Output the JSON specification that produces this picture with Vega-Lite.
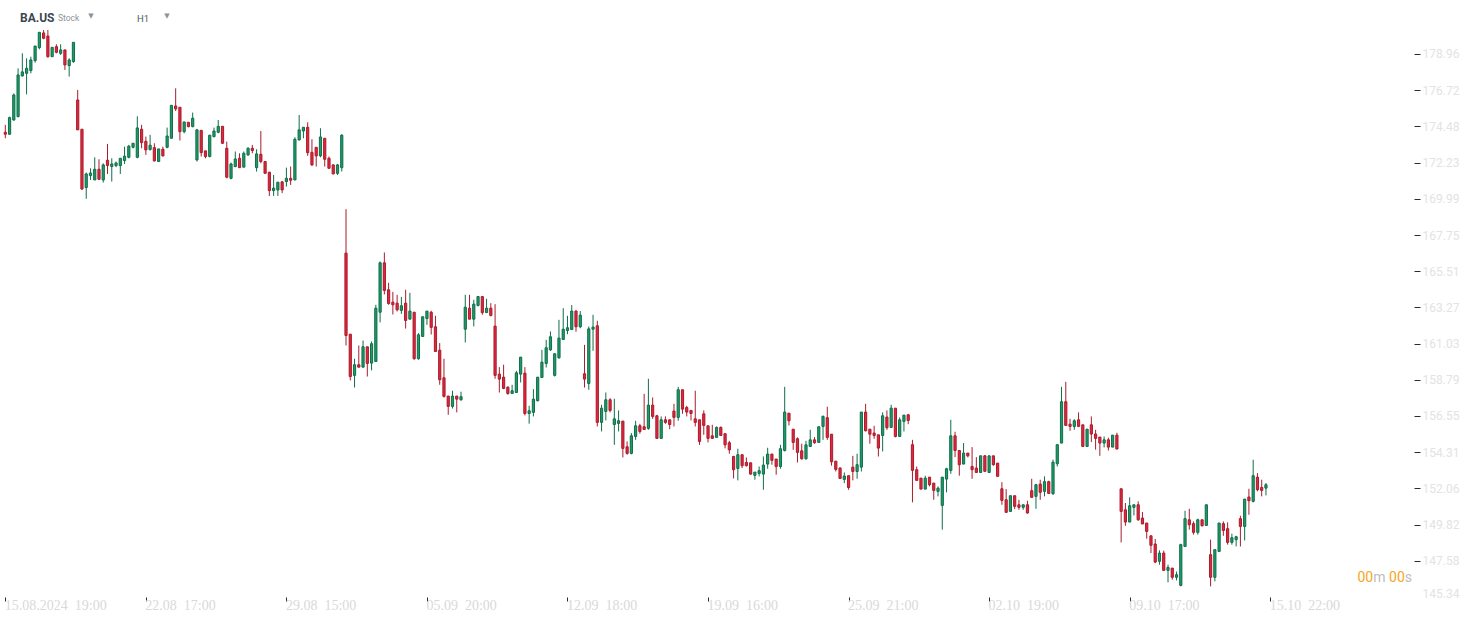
{
"$schema": "https://vega.github.io/schema/vega-lite/v6.json",
"width": 1414,
"height": 597,
"autosize": {"type": "none"},
"padding": {"left": 0, "top": 0, "right": 68, "bottom": 26},
"background": "#ffffff",
"config": {"view": {"stroke": null}, "font": "Roboto", "scale": {"continuousPadding": 0}, "axis": {"labelOverlap": false, "labelBound": false}},
"title": {"text": "BA.US", "anchor": "start", "frame": "group", "offset": 0, "dx": 20, "dy": 34, "baseline": "alphabetic", "fontSize": 12, "fontWeight": "bold", "color": "#3b4653", "font": "Roboto"},
"data": {"values": [
{"i":1,"open":174.11,"high":174.57,"low":173.74,"close":173.99},
{"i":2,"open":173.99,"high":175.08,"low":173.95,"close":175.02},
{"i":3,"open":174.87,"high":176.52,"low":174.83,"close":176.42},
{"i":4,"open":175.08,"high":178.07,"low":175.04,"close":177.66},
{"i":5,"open":177.60,"high":179.00,"low":177.56,"close":177.85},
{"i":6,"open":177.76,"high":178.69,"low":176.46,"close":178.07},
{"i":7,"open":177.93,"high":178.79,"low":177.76,"close":178.59},
{"i":8,"open":178.55,"high":179.45,"low":178.42,"close":179.45},
{"i":9,"open":179.35,"high":180.30,"low":179.25,"close":180.30},
{"i":10,"open":180.26,"high":180.44,"low":179.87,"close":179.93},
{"i":11,"open":180.07,"high":180.44,"low":178.73,"close":178.79},
{"i":12,"open":178.79,"high":179.37,"low":178.79,"close":179.37},
{"i":13,"open":179.41,"high":179.56,"low":179.00,"close":179.06},
{"i":14,"open":179.00,"high":179.56,"low":178.90,"close":179.21},
{"i":15,"open":179.21,"high":179.21,"low":177.97,"close":178.28},
{"i":16,"open":178.24,"high":178.69,"low":177.56,"close":178.59},
{"i":17,"open":178.48,"high":179.68,"low":178.42,"close":179.68},
{"i":18,"open":176.11,"high":176.73,"low":174.26,"close":174.26},
{"i":19,"open":174.30,"high":174.30,"low":170.54,"close":170.60},
{"i":20,"open":170.69,"high":171.62,"low":169.99,"close":171.53},
{"i":21,"open":171.43,"high":171.88,"low":171.16,"close":171.59},
{"i":22,"open":171.16,"high":172.56,"low":171.16,"close":171.82},
{"i":23,"open":171.82,"high":172.44,"low":171.16,"close":171.20},
{"i":24,"open":171.16,"high":172.19,"low":171.00,"close":172.09},
{"i":25,"open":172.38,"high":173.39,"low":171.53,"close":172.05},
{"i":26,"open":171.99,"high":172.50,"low":171.06,"close":172.15},
{"i":27,"open":172.05,"high":172.30,"low":171.95,"close":172.21},
{"i":28,"open":172.05,"high":172.50,"low":171.53,"close":172.50},
{"i":29,"open":172.36,"high":173.22,"low":172.15,"close":172.63},
{"i":30,"open":172.56,"high":173.33,"low":172.50,"close":173.25},
{"i":31,"open":173.18,"high":173.43,"low":173.12,"close":173.43},
{"i":32,"open":172.56,"high":175.10,"low":172.50,"close":174.38},
{"i":33,"open":174.30,"high":174.57,"low":173.12,"close":173.47},
{"i":34,"open":173.55,"high":173.84,"low":172.71,"close":173.02},
{"i":35,"open":173.04,"high":173.95,"low":172.98,"close":173.31},
{"i":36,"open":173.16,"high":173.43,"low":172.30,"close":172.34},
{"i":37,"open":172.30,"high":173.08,"low":172.30,"close":173.08},
{"i":38,"open":173.06,"high":173.22,"low":172.61,"close":172.65},
{"i":39,"open":173.18,"high":174.40,"low":173.12,"close":173.88},
{"i":40,"open":173.74,"high":175.78,"low":173.74,"close":175.78},
{"i":41,"open":175.74,"high":176.83,"low":175.43,"close":175.56},
{"i":42,"open":175.66,"high":175.66,"low":173.60,"close":174.15},
{"i":43,"open":174.15,"high":174.75,"low":174.05,"close":174.75},
{"i":44,"open":174.73,"high":174.73,"low":174.42,"close":174.46},
{"i":45,"open":174.46,"high":175.33,"low":174.42,"close":174.98},
{"i":46,"open":172.40,"high":174.32,"low":172.30,"close":174.26},
{"i":47,"open":174.23,"high":174.23,"low":172.61,"close":172.85},
{"i":48,"open":172.96,"high":172.96,"low":172.50,"close":172.61},
{"i":49,"open":172.61,"high":173.93,"low":172.56,"close":173.93},
{"i":50,"open":173.84,"high":174.40,"low":173.80,"close":174.19},
{"i":51,"open":174.11,"high":174.87,"low":174.05,"close":174.48},
{"i":52,"open":174.48,"high":174.48,"low":173.39,"close":173.43},
{"i":53,"open":173.12,"high":173.53,"low":171.26,"close":171.33},
{"i":54,"open":171.26,"high":172.23,"low":171.20,"close":172.15},
{"i":55,"open":171.99,"high":172.92,"low":171.95,"close":172.46},
{"i":56,"open":172.50,"high":172.81,"low":171.92,"close":171.92},
{"i":57,"open":171.95,"high":172.92,"low":171.95,"close":172.81},
{"i":58,"open":172.71,"high":173.18,"low":172.65,"close":173.12},
{"i":59,"open":173.12,"high":173.33,"low":172.81,"close":172.98},
{"i":60,"open":171.92,"high":173.06,"low":171.68,"close":172.77},
{"i":61,"open":172.75,"high":174.19,"low":172.19,"close":172.30},
{"i":62,"open":172.30,"high":172.30,"low":171.57,"close":171.57},
{"i":63,"open":171.64,"high":171.64,"low":170.17,"close":170.50},
{"i":64,"open":170.50,"high":171.47,"low":170.17,"close":170.65},
{"i":65,"open":170.54,"high":171.02,"low":170.17,"close":171.02},
{"i":66,"open":171.04,"high":171.10,"low":170.34,"close":170.54},
{"i":67,"open":171.06,"high":171.92,"low":170.75,"close":171.26},
{"i":68,"open":171.26,"high":171.99,"low":170.85,"close":171.14},
{"i":69,"open":171.16,"high":173.80,"low":171.16,"close":173.68},
{"i":70,"open":173.64,"high":175.18,"low":173.60,"close":174.26},
{"i":71,"open":174.19,"high":174.42,"low":173.74,"close":174.42},
{"i":72,"open":174.42,"high":174.73,"low":172.65,"close":172.85},
{"i":73,"open":172.87,"high":173.68,"low":172.03,"close":172.09},
{"i":74,"open":173.18,"high":173.18,"low":171.99,"close":172.65},
{"i":75,"open":172.65,"high":174.36,"low":172.56,"close":173.82},
{"i":76,"open":173.74,"high":173.74,"low":171.99,"close":172.44},
{"i":77,"open":172.50,"high":172.61,"low":171.88,"close":171.88},
{"i":78,"open":172.09,"high":172.13,"low":171.53,"close":171.53},
{"i":79,"open":171.57,"high":172.15,"low":171.47,"close":172.09},
{"i":80,"open":171.92,"high":173.99,"low":171.68,"close":173.93},
{"i":81,"open":166.63,"high":169.35,"low":160.91,"close":161.53},
{"i":82,"open":161.61,"high":161.61,"low":158.75,"close":158.99},
{"i":83,"open":159.06,"high":160.09,"low":158.31,"close":159.72},
{"i":84,"open":159.72,"high":160.91,"low":159.55,"close":159.57},
{"i":85,"open":159.57,"high":161.22,"low":159.55,"close":160.83},
{"i":86,"open":160.83,"high":160.83,"low":158.99,"close":159.80},
{"i":87,"open":159.82,"high":161.16,"low":159.37,"close":161.02},
{"i":88,"open":159.92,"high":163.43,"low":159.92,"close":163.22},
{"i":89,"open":162.97,"high":166.11,"low":162.34,"close":166.03},
{"i":90,"open":166.03,"high":166.67,"low":164.07,"close":164.32},
{"i":91,"open":164.36,"high":164.79,"low":163.43,"close":163.51},
{"i":92,"open":163.59,"high":164.23,"low":162.83,"close":163.43},
{"i":93,"open":163.53,"high":164.05,"low":163.02,"close":163.12},
{"i":94,"open":163.08,"high":163.92,"low":162.87,"close":163.37},
{"i":95,"open":163.53,"high":164.36,"low":161.96,"close":162.46},
{"i":96,"open":162.54,"high":164.17,"low":162.54,"close":163.04},
{"i":97,"open":162.97,"high":162.97,"low":160.03,"close":160.09},
{"i":98,"open":160.09,"high":161.68,"low":160.03,"close":161.57},
{"i":99,"open":161.47,"high":162.69,"low":161.47,"close":162.69},
{"i":100,"open":162.58,"high":163.04,"low":162.19,"close":163.04},
{"i":101,"open":162.97,"high":163.06,"low":161.59,"close":162.03},
{"i":102,"open":162.07,"high":162.75,"low":160.54,"close":160.54},
{"i":103,"open":160.62,"high":161.06,"low":158.48,"close":158.79},
{"i":104,"open":158.91,"high":160.09,"low":157.69,"close":157.76},
{"i":105,"open":157.78,"high":157.78,"low":156.62,"close":157.14},
{"i":106,"open":157.14,"high":158.11,"low":157.01,"close":157.78},
{"i":107,"open":157.78,"high":157.78,"low":156.77,"close":157.59},
{"i":108,"open":157.55,"high":158.05,"low":157.49,"close":157.74},
{"i":109,"open":161.92,"high":164.05,"low":161.10,"close":163.28},
{"i":110,"open":163.22,"high":164.05,"low":162.54,"close":162.54},
{"i":111,"open":162.54,"high":163.74,"low":162.09,"close":163.47},
{"i":112,"open":163.39,"high":163.94,"low":163.33,"close":163.94},
{"i":113,"open":163.94,"high":163.94,"low":162.81,"close":162.95},
{"i":114,"open":162.95,"high":163.80,"low":162.95,"close":163.22},
{"i":115,"open":163.22,"high":163.53,"low":162.71,"close":162.77},
{"i":116,"open":162.11,"high":163.47,"low":158.85,"close":159.06},
{"i":117,"open":159.14,"high":159.57,"low":158.00,"close":158.83},
{"i":118,"open":158.95,"high":159.72,"low":158.21,"close":158.25},
{"i":119,"open":158.33,"high":158.38,"low":157.86,"close":157.94},
{"i":120,"open":157.94,"high":158.48,"low":157.94,"close":158.11},
{"i":121,"open":158.00,"high":159.34,"low":158.00,"close":159.22},
{"i":122,"open":159.14,"high":160.19,"low":158.62,"close":160.19},
{"i":123,"open":159.20,"high":159.57,"low":156.58,"close":156.70},
{"i":124,"open":156.70,"high":157.18,"low":156.07,"close":156.87},
{"i":125,"open":156.77,"high":158.21,"low":156.52,"close":157.59},
{"i":126,"open":157.49,"high":158.95,"low":157.45,"close":158.95},
{"i":127,"open":158.93,"high":160.64,"low":158.93,"close":159.88},
{"i":128,"open":159.80,"high":161.26,"low":159.55,"close":160.77},
{"i":129,"open":160.64,"high":161.78,"low":160.58,"close":161.45},
{"i":130,"open":159.06,"high":160.40,"low":158.99,"close":160.40},
{"i":131,"open":160.15,"high":162.50,"low":160.09,"close":161.37},
{"i":132,"open":161.28,"high":163.22,"low":161.28,"close":161.92},
{"i":133,"open":161.84,"high":162.75,"low":161.61,"close":162.01},
{"i":134,"open":161.90,"high":163.41,"low":161.90,"close":163.04},
{"i":135,"open":163.04,"high":163.10,"low":161.76,"close":162.07},
{"i":136,"open":162.07,"high":163.04,"low":161.98,"close":162.79},
{"i":137,"open":159.16,"high":160.95,"low":158.31,"close":158.83},
{"i":138,"open":158.56,"high":162.09,"low":158.17,"close":161.94},
{"i":139,"open":161.92,"high":162.81,"low":160.58,"close":162.05},
{"i":140,"open":162.13,"high":162.44,"low":155.90,"close":156.15},
{"i":141,"open":156.15,"high":157.24,"low":155.59,"close":157.03},
{"i":142,"open":156.83,"high":158.00,"low":156.27,"close":157.55},
{"i":143,"open":157.55,"high":157.65,"low":156.77,"close":156.89},
{"i":144,"open":156.02,"high":157.61,"low":154.76,"close":156.37},
{"i":145,"open":156.09,"high":156.89,"low":155.59,"close":156.25},
{"i":146,"open":156.23,"high":156.23,"low":153.98,"close":154.54},
{"i":147,"open":154.64,"high":154.97,"low":154.15,"close":154.23},
{"i":148,"open":154.23,"high":155.49,"low":154.17,"close":155.32},
{"i":149,"open":155.28,"high":156.25,"low":155.07,"close":155.94},
{"i":150,"open":155.94,"high":156.06,"low":155.45,"close":155.59},
{"i":151,"open":155.88,"high":157.92,"low":155.71,"close":155.71},
{"i":152,"open":155.78,"high":158.85,"low":155.69,"close":157.22},
{"i":153,"open":157.22,"high":157.69,"low":156.37,"close":156.52},
{"i":154,"open":156.56,"high":156.62,"low":155.16,"close":155.16},
{"i":155,"open":155.16,"high":156.52,"low":155.16,"close":156.31},
{"i":156,"open":156.31,"high":156.52,"low":156.06,"close":156.15},
{"i":157,"open":156.31,"high":156.31,"low":155.73,"close":156.02},
{"i":158,"open":156.85,"high":157.30,"low":155.90,"close":156.46},
{"i":159,"open":156.46,"high":158.35,"low":156.25,"close":158.17},
{"i":160,"open":158.17,"high":158.17,"low":156.68,"close":156.97},
{"i":161,"open":157.07,"high":157.18,"low":156.52,"close":156.79},
{"i":162,"open":156.89,"high":156.89,"low":156.27,"close":156.70},
{"i":163,"open":156.37,"high":158.11,"low":155.90,"close":156.15},
{"i":164,"open":156.31,"high":156.31,"low":154.76,"close":154.97},
{"i":165,"open":156.68,"high":156.89,"low":155.38,"close":155.96},
{"i":166,"open":155.94,"high":155.94,"low":154.91,"close":155.16},
{"i":167,"open":155.32,"high":156.00,"low":155.16,"close":155.16},
{"i":168,"open":155.22,"high":155.90,"low":155.22,"close":155.84},
{"i":169,"open":155.84,"high":155.90,"low":155.34,"close":155.34},
{"i":170,"open":155.45,"high":155.45,"low":154.54,"close":154.76},
{"i":171,"open":154.89,"high":155.01,"low":154.21,"close":154.45},
{"i":172,"open":154.04,"high":154.08,"low":152.68,"close":153.22},
{"i":173,"open":153.30,"high":154.52,"low":152.56,"close":154.15},
{"i":174,"open":154.15,"high":154.15,"low":153.32,"close":153.47},
{"i":175,"open":153.67,"high":153.98,"low":153.42,"close":153.47},
{"i":176,"open":153.65,"high":153.65,"low":152.91,"close":152.95},
{"i":177,"open":152.87,"high":153.07,"low":152.60,"close":153.07},
{"i":178,"open":152.99,"high":153.42,"low":152.81,"close":153.16},
{"i":179,"open":152.95,"high":154.04,"low":151.98,"close":153.51},
{"i":180,"open":153.57,"high":154.58,"low":153.28,"close":154.19},
{"i":181,"open":154.19,"high":154.19,"low":153.53,"close":153.80},
{"i":182,"open":153.88,"high":153.88,"low":152.91,"close":153.42},
{"i":183,"open":153.42,"high":154.76,"low":153.28,"close":154.52},
{"i":184,"open":154.41,"high":158.35,"low":154.35,"close":156.79},
{"i":185,"open":156.72,"high":156.72,"low":155.96,"close":156.25},
{"i":186,"open":155.73,"high":155.73,"low":154.45,"close":154.91},
{"i":187,"open":155.14,"high":155.22,"low":153.67,"close":154.29},
{"i":188,"open":154.39,"high":154.83,"low":153.84,"close":153.90},
{"i":189,"open":153.90,"high":155.01,"low":153.84,"close":154.76},
{"i":190,"open":154.66,"high":155.69,"low":154.66,"close":155.07},
{"i":191,"open":155.07,"high":155.24,"low":154.83,"close":154.89},
{"i":192,"open":154.91,"high":155.88,"low":154.91,"close":155.88},
{"i":193,"open":155.90,"high":156.58,"low":155.07,"close":156.52},
{"i":194,"open":156.44,"high":157.12,"low":155.07,"close":155.22},
{"i":195,"open":155.42,"high":155.42,"low":153.47,"close":153.71},
{"i":196,"open":153.75,"high":153.75,"low":153.11,"close":153.24},
{"i":197,"open":153.32,"high":153.38,"low":152.68,"close":152.68},
{"i":198,"open":152.62,"high":153.05,"low":152.39,"close":152.83},
{"i":199,"open":152.85,"high":152.85,"low":151.98,"close":152.12},
{"i":200,"open":153.38,"high":154.08,"low":152.56,"close":153.11},
{"i":201,"open":153.11,"high":154.21,"low":152.66,"close":153.53},
{"i":202,"open":153.38,"high":156.79,"low":153.11,"close":156.79},
{"i":203,"open":156.79,"high":157.30,"low":155.59,"close":155.63},
{"i":204,"open":155.73,"high":155.73,"low":154.83,"close":155.42},
{"i":205,"open":155.49,"high":155.94,"low":155.14,"close":155.34},
{"i":206,"open":155.38,"high":155.38,"low":154.04,"close":154.56},
{"i":207,"open":155.34,"high":156.77,"low":154.35,"close":156.56},
{"i":208,"open":156.48,"high":156.89,"low":155.69,"close":155.82},
{"i":209,"open":155.84,"high":157.24,"low":155.84,"close":157.03},
{"i":210,"open":157.03,"high":157.03,"low":155.22,"close":155.28},
{"i":211,"open":155.28,"high":156.46,"low":155.28,"close":156.31},
{"i":212,"open":156.21,"high":156.60,"low":155.59,"close":156.60},
{"i":213,"open":156.62,"high":156.68,"low":156.04,"close":156.27},
{"i":214,"open":154.77,"high":155.07,"low":151.20,"close":153.18},
{"i":215,"open":153.22,"high":153.42,"low":152.56,"close":152.56},
{"i":216,"open":152.70,"high":152.70,"low":152.02,"close":152.02},
{"i":217,"open":152.02,"high":152.85,"low":152.02,"close":152.70},
{"i":218,"open":152.76,"high":152.76,"low":152.19,"close":152.29},
{"i":219,"open":152.39,"high":152.39,"low":151.36,"close":151.94},
{"i":220,"open":151.88,"high":152.19,"low":151.57,"close":152.08},
{"i":221,"open":151.01,"high":152.76,"low":149.51,"close":152.76},
{"i":222,"open":152.64,"high":153.34,"low":151.82,"close":153.28},
{"i":223,"open":153.18,"high":156.31,"low":152.97,"close":155.32},
{"i":224,"open":155.32,"high":155.57,"low":154.00,"close":154.41},
{"i":225,"open":154.41,"high":154.41,"low":152.85,"close":153.53},
{"i":226,"open":153.57,"high":154.87,"low":153.57,"close":154.25},
{"i":227,"open":154.25,"high":154.25,"low":153.98,"close":154.08},
{"i":228,"open":153.42,"high":154.62,"low":152.66,"close":153.22},
{"i":229,"open":153.32,"high":154.00,"low":153.05,"close":153.05},
{"i":230,"open":153.05,"high":154.08,"low":153.05,"close":154.08},
{"i":231,"open":154.08,"high":154.13,"low":153.12,"close":153.12},
{"i":232,"open":153.05,"high":154.08,"low":153.05,"close":154.08},
{"i":233,"open":154.08,"high":154.08,"low":153.47,"close":153.53},
{"i":234,"open":153.63,"high":153.63,"low":152.81,"close":152.81},
{"i":235,"open":152.04,"high":152.45,"low":151.05,"close":151.32},
{"i":236,"open":151.36,"high":152.02,"low":150.58,"close":150.58},
{"i":237,"open":150.64,"high":151.61,"low":150.64,"close":151.61},
{"i":238,"open":151.61,"high":151.61,"low":150.78,"close":150.95},
{"i":239,"open":151.05,"high":151.36,"low":150.74,"close":150.89},
{"i":240,"open":150.89,"high":151.05,"low":150.74,"close":151.05},
{"i":241,"open":151.05,"high":151.30,"low":150.50,"close":150.54},
{"i":242,"open":151.92,"high":152.66,"low":151.51,"close":151.51},
{"i":243,"open":151.57,"high":152.35,"low":150.80,"close":152.29},
{"i":244,"open":152.33,"high":152.60,"low":151.36,"close":151.82},
{"i":245,"open":151.88,"high":152.81,"low":151.57,"close":152.48},
{"i":246,"open":152.48,"high":152.54,"low":151.75,"close":151.75},
{"i":247,"open":151.73,"high":153.84,"low":151.67,"close":153.69},
{"i":248,"open":153.59,"high":154.77,"low":153.42,"close":154.77},
{"i":249,"open":154.87,"high":158.35,"low":154.87,"close":157.43},
{"i":250,"open":157.43,"high":158.66,"low":155.96,"close":155.96},
{"i":251,"open":156.04,"high":156.37,"low":155.63,"close":155.90},
{"i":252,"open":155.90,"high":156.35,"low":155.69,"close":156.25},
{"i":253,"open":156.31,"high":156.77,"low":155.86,"close":155.90},
{"i":254,"open":156.00,"high":156.00,"low":154.66,"close":154.66},
{"i":255,"open":154.66,"high":155.73,"low":154.66,"close":155.73},
{"i":256,"open":156.00,"high":156.52,"low":154.93,"close":155.43},
{"i":257,"open":155.43,"high":155.69,"low":154.46,"close":155.16},
{"i":258,"open":155.24,"high":155.24,"low":154.08,"close":154.87},
{"i":259,"open":154.87,"high":155.28,"low":154.60,"close":155.07},
{"i":260,"open":155.07,"high":155.20,"low":154.41,"close":154.62},
{"i":261,"open":154.62,"high":155.36,"low":154.62,"close":155.36},
{"i":262,"open":155.36,"high":155.51,"low":154.50,"close":154.50},
{"i":263,"open":152.04,"high":152.04,"low":148.72,"close":150.64},
{"i":264,"open":150.74,"high":151.16,"low":149.75,"close":149.98},
{"i":265,"open":149.98,"high":151.51,"low":149.98,"close":150.99},
{"i":266,"open":150.89,"high":151.05,"low":150.39,"close":151.05},
{"i":267,"open":151.05,"high":151.26,"low":150.06,"close":150.12},
{"i":268,"open":150.23,"high":150.60,"low":149.86,"close":149.86},
{"i":269,"open":149.92,"high":149.92,"low":148.95,"close":149.40},
{"i":270,"open":149.13,"high":149.13,"low":148.06,"close":148.54},
{"i":271,"open":148.62,"high":148.93,"low":147.44,"close":147.50},
{"i":272,"open":147.55,"high":148.23,"low":147.34,"close":148.06},
{"i":273,"open":148.06,"high":148.21,"low":146.99,"close":146.99},
{"i":274,"open":146.99,"high":147.34,"low":146.25,"close":147.17},
{"i":275,"open":147.13,"high":147.13,"low":146.41,"close":146.56},
{"i":276,"open":146.56,"high":146.91,"low":146.37,"close":146.72},
{"i":277,"open":146.06,"high":148.64,"low":146.00,"close":148.58},
{"i":278,"open":148.47,"high":150.68,"low":148.47,"close":150.19},
{"i":279,"open":150.12,"high":150.80,"low":149.51,"close":149.81},
{"i":280,"open":149.88,"high":150.02,"low":149.20,"close":149.34},
{"i":281,"open":149.34,"high":150.19,"low":149.20,"close":150.12},
{"i":282,"open":150.12,"high":150.12,"low":149.71,"close":149.75},
{"i":283,"open":149.77,"high":151.05,"low":149.77,"close":151.05},
{"i":284,"open":147.96,"high":148.89,"low":146.00,"close":146.56},
{"i":285,"open":146.56,"high":148.27,"low":146.31,"close":148.27},
{"i":286,"open":148.16,"high":149.92,"low":148.16,"close":149.92},
{"i":287,"open":149.88,"high":150.02,"low":149.13,"close":149.46},
{"i":288,"open":149.57,"high":149.96,"low":148.58,"close":148.72},
{"i":289,"open":148.72,"high":149.26,"low":148.58,"close":149.01},
{"i":290,"open":148.89,"high":149.13,"low":148.47,"close":149.07},
{"i":291,"open":150.19,"high":150.37,"low":148.47,"close":149.71},
{"i":292,"open":149.71,"high":151.40,"low":148.84,"close":151.40},
{"i":293,"open":151.53,"high":152.04,"low":150.43,"close":151.30},
{"i":294,"open":151.26,"high":153.84,"low":151.20,"close":152.85},
{"i":295,"open":152.76,"high":153.01,"low":151.88,"close":151.98},
{"i":296,"open":152.12,"high":152.60,"low":151.57,"close":151.94},
{"i":297,"open":152.08,"high":152.39,"low":151.63,"close":152.29}
]},
"layer": [
{
"mark": {"type": "rule", "strokeWidth": 1},
"encoding": {
"x": {"field": "i", "type": "quantitative", "scale": {"domain": [-0.244, 331.76], "nice": false, "zero": false, "padding": 0},
"axis": {"values": [1,34,67,100,133,166,199,232,265,298], "tickCount": 40, "labelExpr": "['15.08.2024\u00a0\u00a019:00','22.08\u00a0\u00a017:00','29.08\u00a0\u00a015:00','05.09\u00a0\u00a020:00','12.09\u00a0\u00a018:00','19.09\u00a0\u00a016:00','25.09\u00a0\u00a021:00','02.10\u00a0\u00a019:00','09.10\u00a0\u00a017:00','15.10\u00a0\u00a022:00'][round((datum.value-1)/33)]", "title": null, "grid": false, "domain": false, "ticks": true, "tickColor": "#2b2b2b", "tickSize": 4, "tickWidth": 1, "labelAlign": "left", "labelBaseline": "top", "labelPadding": -3, "labelOffset": -1, "labelFont": "Liberation Sans Narrow", "labelFontSize": 14, "labelColor": "#d9d9d9", "labelFlush": false, "labelOverlap": false, "labelBound": false}},
"y": {"field": "low", "type": "quantitative", "scale": {"domain": [145.34, 182.30], "nice": false, "zero": false, "padding": 0},
"axis": {"orient": "right", "values": [145.34,147.58,149.82,152.06,154.31,156.55,158.79,161.03,163.27,165.51,167.75,169.99,172.23,174.48,176.72,178.96], "tickCount": 40, "format": ".2f", "title": null, "grid": false, "domain": false, "ticks": true, "tickColor": {"condition": {"test": "datum.value < 146", "value": "transparent"}, "value": "#2b2b2b"}, "tickSize": 6, "tickWidth": 1, "labelPadding": 2, "labelFont": "Roboto", "labelFontSize": 12, "labelColor": "#e3e3e3", "labelBaseline": "middle", "labelOffset": {"condition": {"test": "datum.value < 146", "value": -4}, "value": 0}, "labelFlush": false, "labelOverlap": false, "labelBound": false}},
"y2": {"field": "high"},
"color": {"condition": {"test": "datum.close >= datum.open", "value": "#0f6e48"}, "value": "#a81c2c"}
}
},
{
"mark": {"type": "bar", "size": 2.2, "strokeWidth": 1},
"encoding": {
"x": {"field": "i", "type": "quantitative"},
"y": {"field": "open", "type": "quantitative"},
"y2": {"field": "close"},
"fill": {"condition": {"test": "datum.close >= datum.open", "value": "#1e9b6c"}, "value": "#e3263c"},
"stroke": {"condition": {"test": "datum.close >= datum.open", "value": "#0f6e48"}, "value": "#a81c2c"}
}
},
{
"data": {"values": [{}]},
"mark": {"type": "text", "text": "Stock", "align": "left", "baseline": "middle", "font": "Roboto", "fontSize": 8.5, "color": "#8c939a"},
"encoding": {"x": {"datum": 13.37, "type": "quantitative"}, "y": {"datum": 181.19, "type": "quantitative"}}
},
{
"data": {"values": [{}]},
"mark": {"type": "text", "text": "▼", "align": "center", "baseline": "middle", "font": "DejaVu Sans", "fontSize": 7, "color": "#8c939a"},
"encoding": {"x": {"datum": 21.12, "type": "quantitative"}, "y": {"datum": 181.29, "type": "quantitative"}}
},
{
"data": {"values": [{}]},
"mark": {"type": "text", "text": "H1", "align": "left", "baseline": "middle", "font": "Roboto", "fontSize": 9.5, "color": "#4e5863"},
"encoding": {"x": {"datum": 31.92, "type": "quantitative"}, "y": {"datum": 181.12, "type": "quantitative"}}
},
{
"data": {"values": [{}]},
"mark": {"type": "text", "text": "▼", "align": "center", "baseline": "middle", "font": "DejaVu Sans", "fontSize": 7, "color": "#8c939a"},
"encoding": {"x": {"datum": 38.97, "type": "quantitative"}, "y": {"datum": 181.29, "type": "quantitative"}}
},
{
"data": {"values": [{}]},
"mark": {"type": "text", "text": "s", "align": "right", "baseline": "middle", "font": "Roboto", "fontSize": 14, "color": "#b9bec4", "dx": 0},
"encoding": {"x": {"datum": 331.29, "type": "quantitative"}, "y": {"datum": 146.52, "type": "quantitative"}}
},
{
"data": {"values": [{}]},
"mark": {"type": "text", "text": "00", "align": "right", "baseline": "middle", "font": "Roboto", "fontSize": 14, "color": "#f5a623", "dx": -7.2},
"encoding": {"x": {"datum": 331.29, "type": "quantitative"}, "y": {"datum": 146.52, "type": "quantitative"}}
},
{
"data": {"values": [{}]},
"mark": {"type": "text", "text": "m", "align": "right", "baseline": "middle", "font": "Roboto", "fontSize": 14, "color": "#b9bec4", "dx": -26.5},
"encoding": {"x": {"datum": 331.29, "type": "quantitative"}, "y": {"datum": 146.52, "type": "quantitative"}}
},
{
"data": {"values": [{}]},
"mark": {"type": "text", "text": "00", "align": "right", "baseline": "middle", "font": "Roboto", "fontSize": 14, "color": "#f5a623", "dx": -38.8},
"encoding": {"x": {"datum": 331.29, "type": "quantitative"}, "y": {"datum": 146.52, "type": "quantitative"}}
}
]
}
